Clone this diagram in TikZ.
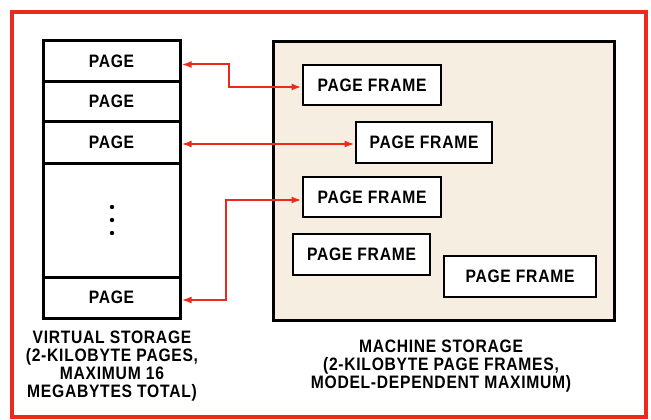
\documentclass[tikz,border=0pt]{standalone}
\usepackage{fontspec}
\setmainfont{Liberation Sans}[FakeStretch=0.87,LetterSpace=4]
\usetikzlibrary{arrows.meta}
\definecolor{rd}{HTML}{EC2A1C}
\definecolor{beige}{HTML}{F6EFE1}
\begin{document}
\begin{tikzpicture}[x=1pt,y=-1pt,
  cell/.style={draw=black,line width=3pt,minimum width=137pt,inner sep=0pt,font=\fontsize{18}{18}\selectfont\bfseries},
  pframe/.style={draw=black,line width=2.8pt,fill=white,minimum width=138pt,minimum height=40pt,inner sep=0pt,font=\fontsize{18}{18}\selectfont\bfseries},
  arr/.style={draw=rd,line width=2pt,{Latex[length=10pt,width=7pt]}-{Latex[length=10pt,width=7pt]}},
  lbl/.style={align=center,inner sep=0pt,font=\fontsize{18}{18}\selectfont\bfseries}]
\useasboundingbox (0,0) rectangle (651,420);
\fill[white] (0,0) rectangle (651,420);
\draw[rd,line width=4.5pt] (12,12) rectangle (646,417);
% virtual storage
\node[cell,minimum height=41pt] (v1) at (111.5,61.5) {PAGE};
\node[cell,minimum height=39pt] (v2) at (111.5,101.5) {PAGE};
\node[cell,minimum height=42pt] (v3) at (111.5,142) {PAGE};
\node[cell,minimum height=114pt] (vd) at (111.5,220) {};
\node[cell,minimum height=41pt] (v5) at (111.5,297.5) {PAGE};
\fill (112,207) circle (2.2pt) (112,220) circle (2.2pt) (112,233) circle (2.2pt);
% machine storage
\node[draw=black,line width=3pt,fill=beige,minimum width=341pt,minimum height=278pt,inner sep=0pt] (ms) at (443.5,181) {};
\node[pframe] (pf1) at (372,85) {PAGE FRAME};
\node[pframe,minimum width=136pt,minimum height=41pt] (pf2) at (424,142.5) {PAGE FRAME};
\node[pframe] (pf3) at (372,197) {PAGE FRAME};
\node[pframe,minimum width=137pt,minimum height=41pt] (pf4) at (361.5,254.5) {PAGE FRAME};
\node[pframe,minimum width=152pt,minimum height=41pt] (pf5) at (520,276.5) {PAGE FRAME};
% arrows
\draw[arr] ([yshift=-3pt]v1.east) -- ++(47,0) |- ([yshift=-2pt]pf1.west);
\draw[arr] ([yshift=-2pt]v3.east) -- ([yshift=-1.5pt]pf2.west);
\draw[arr] ([yshift=-3pt]pf3.west) -- ++(-76,0) |- ([yshift=-2.5pt]v5.east);
% labels
\node[lbl,anchor=north] (lv) at (112,331) {VIRTUAL STORAGE\\(2-KILOBYTE PAGES,\\MAXIMUM 16\\MEGABYTES TOTAL)};
\node[lbl,anchor=north] (lm) at (441,340) {MACHINE STORAGE\\(2-KILOBYTE PAGE FRAMES,\\MODEL-DEPENDENT MAXIMUM)};
\end{tikzpicture}
\end{document}
